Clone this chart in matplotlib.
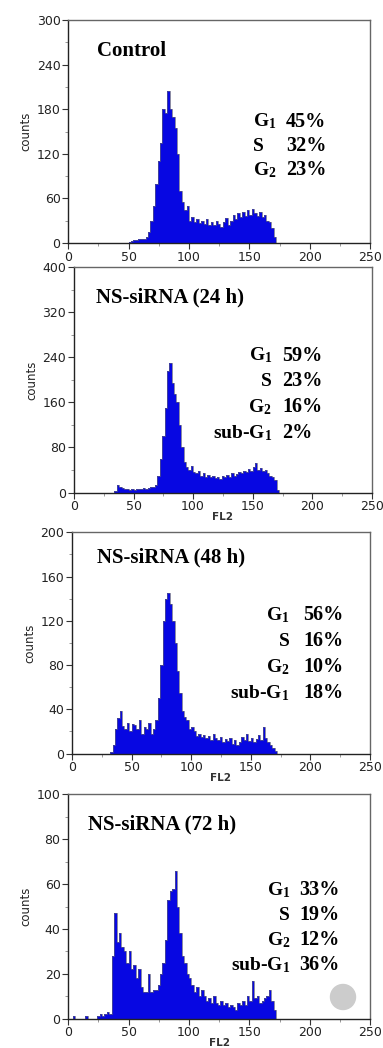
import numpy as np
import matplotlib
matplotlib.use("Agg")
import matplotlib.pyplot as plt
from matplotlib.patches import Circle

plt.rcParams['mathtext.fontset'] = 'custom'
plt.rcParams['mathtext.rm'] = 'Liberation Serif:bold'
plt.rcParams['mathtext.it'] = 'Liberation Serif:bold'
plt.rcParams['mathtext.bf'] = 'Liberation Serif:bold'

# FL2 channel bins, width 2, starting at 0
bin_start = 0
bin_width = 2

control = [0, 0, 0, 0, 0, 0, 0, 0, 0, 0, 0, 0, 0, 0, 0,
           0, 0, 0, 0, 0, 0, 0, 0, 0, 0,
           2, 3, 4, 4, 5, 5, 6, 8, 15, 30,
           50, 80, 110, 135, 180, 175, 205, 180, 170, 155,
           120, 70, 55, 45, 50, 30, 35, 28, 32, 27,
           30, 26, 33, 25, 28, 24, 30, 26, 22, 28,
           34, 25, 30, 38, 33, 40, 35, 42, 36, 44,
           38, 46, 40, 36, 42, 35, 38, 30, 28, 20,
           8, 0]

ns_24h = [0, 0, 0, 0, 0, 0, 0, 0, 0, 0, 0, 0, 0, 0, 0,
          0, 0, 2, 14, 10, 8, 6, 6, 5, 6,
          5, 6, 7, 6, 8, 7, 8, 9, 10, 14,
          30, 60, 100, 150, 215, 230, 195, 175, 160, 120,
          80, 55, 45, 40, 48, 36, 34, 38, 30, 35,
          28, 32, 27, 30, 25, 28, 24, 30, 27, 32,
          28, 35, 30, 33, 36, 34, 38, 36, 42, 38,
          45, 52, 40, 44, 38, 40, 35, 30, 28, 22,
          5, 0]

ns_48h = [0, 0, 0, 0, 0, 0, 0, 0, 0, 0, 0, 0, 0, 0, 0,
          0, 1, 8, 22, 32, 38, 25, 22, 28, 20,
          27, 26, 22, 30, 18, 24, 22, 28, 18, 22,
          30, 50, 80, 120, 140, 145, 135, 120, 100, 75,
          55, 38, 33, 30, 22, 24, 20, 16, 18, 15,
          17, 14, 16, 12, 18, 14, 12, 15, 10, 13,
          11, 14, 9, 12, 8, 10, 15, 12, 18, 11,
          14, 10, 13, 17, 12, 24, 14, 10, 8, 5,
          2, 0]

ns_72h = [0, 0, 1, 0, 0, 0, 0, 1, 0, 0, 0, 0, 1, 2, 1,
          2, 3, 2, 28, 47, 34, 38, 32, 30, 25,
          30, 22, 24, 18, 22, 14, 12, 12, 20, 12,
          13, 13, 15, 20, 25, 35, 53, 57, 58, 66,
          50, 38, 28, 25, 20, 18, 15, 12, 14, 10,
          13, 10, 8, 9, 7, 10, 7, 6, 8, 6,
          7, 5, 6, 5, 4, 7, 6, 8, 6, 10,
          8, 17, 9, 10, 7, 8, 9, 10, 13, 8,
          4, 0]

titles = ['Control', 'NS-siRNA (24 h)', 'NS-siRNA (48 h)', 'NS-siRNA (72 h)']
y_max = [300, 400, 200, 100]
y_step = [60, 80, 40, 20]
phase_labels = [['G$_1$', 'S', 'G$_2$'],
                ['G$_1$', 'S', 'G$_2$', 'sub-G$_1$'],
                ['G$_1$', 'S', 'G$_2$', 'sub-G$_1$'],
                ['G$_1$', 'S', 'G$_2$', 'sub-G$_1$']]
phase_pct = [['45%', '32%', '23%'],
             ['59%', '23%', '16%', '2%'],
             ['56%', '16%', '10%', '18%'],
             ['33%', '19%', '12%', '36%']]
series = [control, ns_24h, ns_48h, ns_72h]

# axes boxes in figure fractions [left, bottom, width, height]
boxes = [[0.178, 0.768, 0.789, 0.213],
         [0.193, 0.530, 0.778, 0.215],
         [0.188, 0.281, 0.778, 0.211],
         [0.178, 0.028, 0.789, 0.214]]
title_pos = [(0.095, 0.86), (0.075, 0.865), (0.085, 0.885), (0.065, 0.865)]
# (x of label column, x of pct column left edge, top row y, row step) in axes fractions
stat_pos = [(0.61, 0.72, 0.522, 0.108),
            (0.665, 0.70, 0.585, 0.114),
            (0.73, 0.775, 0.603, 0.118),
            (0.735, 0.765, 0.552, 0.112)]
label_align = ['left', 'right', 'right', 'right']

fig = plt.figure(figsize=(3.83, 10.48), dpi=100)

for i in range(4):
    ax = fig.add_axes(boxes[i])
    counts = np.array(series[i])
    edges = bin_start + bin_width * np.arange(len(counts) + 1)
    ax.stairs(counts, edges, fill=True, color='#0707e2')
    ax.stairs(counts, edges, color='#5a5a80', linewidth=0.5)
    ax.set_xlim(0, 250)
    ax.set_ylim(0, y_max[i])
    ax.set_xticks([0, 50, 100, 150, 200, 250])
    ax.set_xticks([25, 75, 125, 175, 225], minor=True)
    ax.set_yticks(np.arange(0, y_max[i] + 1, y_step[i]))
    ax.set_yticks(np.arange(y_step[i] / 2, y_max[i], y_step[i]), minor=True)
    ax.tick_params(axis='both', which='major', labelsize=9, length=4,
                   width=0.8, color='#333333', labelcolor='#222222', pad=1.5)
    ax.tick_params(axis='both', which='minor', length=2, width=0.6, color='#888888')
    for lab in ax.get_xticklabels() + ax.get_yticklabels():
        lab.set_family('DejaVu Sans')
    for s in ['top', 'right']:
        ax.spines[s].set_color('#666666')
        ax.spines[s].set_linewidth(1.0)
    for s in ['left', 'bottom']:
        ax.spines[s].set_color('#222222')
        ax.spines[s].set_linewidth(1.0)
    ax.set_ylabel('counts', fontsize=8.5, family='DejaVu Sans', color='#222222', labelpad=3)
    if i > 0:
        ax.set_xlabel('FL2', fontsize=7.5, family='DejaVu Sans', fontweight='bold',
                      color='#333333', labelpad=-1)

    ax.text(title_pos[i][0], title_pos[i][1], titles[i], transform=ax.transAxes,
            family='Liberation Serif', fontweight='bold', fontsize=15,
            ha='left', va='center')
    xl, xp, y0, dy = stat_pos[i]
    for k in range(len(phase_labels[i])):
        yy = y0 - k * dy
        ax.text(xl, yy, phase_labels[i][k], transform=ax.transAxes,
                family='Liberation Serif', fontweight='bold', fontsize=14,
                ha=label_align[i], va='baseline')
        ax.text(xp, yy, phase_pct[i][k], transform=ax.transAxes,
                family='Liberation Serif', fontweight='bold', fontsize=14.5,
                ha='left', va='baseline')

# grey watermark dot
fig.patches.append(Circle((343, 1048 - 997), 12.5, transform=None,
                          color='#cccccc', zorder=5))

fig.savefig('out.png', dpi=100)
